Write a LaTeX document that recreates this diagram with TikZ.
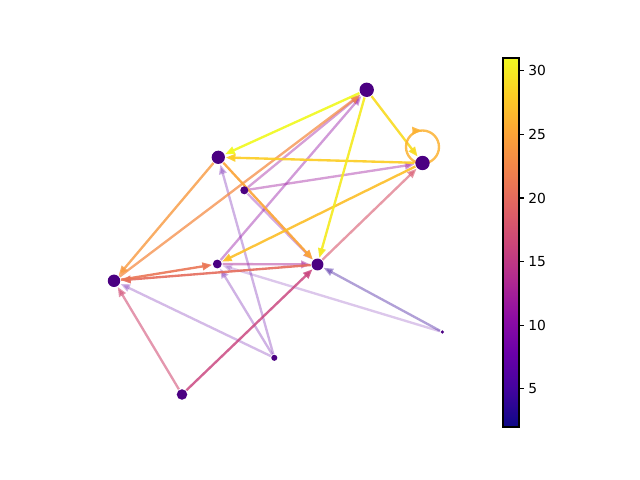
\documentclass[tikz,border=0pt]{standalone}
\usepackage{fontspec}
\setsansfont{DejaVu Sans}
\usetikzlibrary{arrows.meta,decorations.markings,backgrounds}
\definecolor{nodec}{RGB}{75,0,130}
\definecolor{p0}{RGB}{13,8,135}
\definecolor{p1}{RGB}{65,4,157}
\definecolor{p2}{RGB}{106,0,168}
\definecolor{p3}{RGB}{143,13,164}
\definecolor{p4}{RGB}{177,42,144}
\definecolor{p5}{RGB}{204,71,120}
\definecolor{p6}{RGB}{225,100,98}
\definecolor{p7}{RGB}{242,132,75}
\definecolor{p8}{RGB}{252,166,54}
\definecolor{p9}{RGB}{252,206,37}
\definecolor{p10}{RGB}{240,249,33}
\definecolor{w31}{RGB}{240,249,33}
\definecolor{w30}{RGB}{244,234,34}
\definecolor{w29}{RGB}{248,219,36}
\definecolor{w28}{RGB}{252,205,37}
\definecolor{w27}{RGB}{252,191,43}
\definecolor{w26}{RGB}{252,177,49}
\definecolor{w25}{RGB}{251,164,56}
\definecolor{w24}{RGB}{248,152,62}
\definecolor{w23}{RGB}{244,140,70}
\definecolor{w21}{RGB}{234,118,85}
\definecolor{w20}{RGB}{228,108,92}
\definecolor{w18}{RGB}{215,86,108}
\definecolor{w17}{RGB}{208,76,116}
\definecolor{w16}{RGB}{200,66,124}
\definecolor{w13}{RGB}{170,36,148}
\definecolor{w12}{RGB}{158,26,157}
\definecolor{w11}{RGB}{146,16,162}
\definecolor{w10}{RGB}{134,10,165}
\definecolor{w7}{RGB}{95,1,165}
\definecolor{w4}{RGB}{49,5,150}
\pgfdeclareverticalshading{plasma}{100bp}{color(0bp)=(p0); color(25bp)=(p0); color(30bp)=(p1); color(35bp)=(p2); color(40bp)=(p3); color(45bp)=(p4); color(50bp)=(p5); color(55bp)=(p6); color(60bp)=(p7); color(65bp)=(p8); color(70bp)=(p9); color(75bp)=(p10); color(100bp)=(p10)}
\tikzset{
  vtx/.style={circle, fill=nodec, inner sep=0pt, outer sep=0.6pt},
  lnk/.style={-{Triangle[length=7pt,width=5.4pt]}, line width=1.7pt},
  tick/.style={line width=0.8pt},
  ticklbl/.style={anchor=west, font=\sffamily\fontsize{10pt}{12pt}\selectfont, inner sep=0pt}
}
\begin{document}
\begin{tikzpicture}[x=0.0254cm, y=-0.0254cm]
\useasboundingbox (0,0) rectangle (640,480);
% nodes
\node[vtx, minimum size=10.4pt] (A) at (366.7,89.8) {};
\node[vtx, minimum size=9.6pt]  (B) at (218.3,157.3) {};
\node[vtx, minimum size=10.4pt] (C) at (422.5,163) {};
\node[vtx, minimum size=5.8pt]  (D) at (244.3,190.3) {};
\node[vtx, minimum size=6.4pt]  (E) at (217.3,264) {};
\node[vtx, minimum size=8.6pt]  (F) at (317.5,264.5) {};
\node[vtx, minimum size=9pt]    (G) at (114,280.8) {};
\node[vtx, minimum size=4.4pt]  (H) at (274.3,357.8) {};
\node[vtx, minimum size=2.6pt]  (I) at (442.3,332) {};
\node[vtx, minimum size=7.6pt]  (J) at (182,394.5) {};
\begin{pgfonlayer}{background}
\draw[lnk, w7, opacity=0.27] (H) -- (G);
\draw[lnk, w7, opacity=0.22] (I) -- (E);
\draw[lnk, w7, opacity=0.3] (H) -- (E);
\draw[lnk, w7, opacity=0.3] (H) -- (B);
\draw[lnk, w4, opacity=0.38] (I) -- (F);
\draw[lnk, w10, opacity=0.35] (D) -- (F);
\draw[lnk, w11, opacity=0.42] (E) -- (A);
\draw[lnk, w12, opacity=0.42] (D) -- (A);
\draw[lnk, w12, opacity=0.42] (D) -- (C);
\draw[lnk, w13, opacity=0.48] (E) -- (F);
\draw[lnk, w16, opacity=0.82] (J) -- (F);
\draw[lnk, w17, opacity=0.58] (J) -- (G);
\draw[lnk, w18, opacity=0.6] (F) -- (C);
\draw[lnk, w20, opacity=0.9] (F) -- (G);
\draw[lnk, w21, opacity=0.9] (G) -- (E);
\draw[lnk, w23, opacity=0.75] (G) -- (A);
\draw[lnk, w24, opacity=0.8] (B) -- (G);
\draw[lnk, w25, opacity=0.92] (B) -- (F);
\draw[lnk, w27, opacity=0.92] (C) -- (E);
\draw[lnk, w28, opacity=0.92] (C) -- (B);
\draw[lnk, w29, opacity=0.92] (A) -- (C);
\draw[lnk, w30, opacity=0.92] (A) -- (F);
\draw[lnk, w31, opacity=0.92] (A) -- (B);
\path (C.center) ++(0,-16) coordinate (Cl);
\draw[w26, opacity=0.85, line width=1.7pt,
  postaction={decorate, decoration={markings, mark=at position 0.745 with {\arrow{Triangle[length=7pt,width=5.4pt]}}}}]
  (Cl) circle[radius=16.5];
\end{pgfonlayer}
% colorbar
\shade[shading=plasma] (503,58) rectangle (519,427);
\draw[line width=0.8pt] (503,58) rectangle (519,427);
\foreach \v in {5,10,15,20,25,30} {
  \draw[tick] (519,{427-12.724*(\v-2)}) -- ++(4.9,0);
  \node[ticklbl] at (528,{427-12.724*(\v-2)}) {\v};
}
\end{tikzpicture}
\end{document}
